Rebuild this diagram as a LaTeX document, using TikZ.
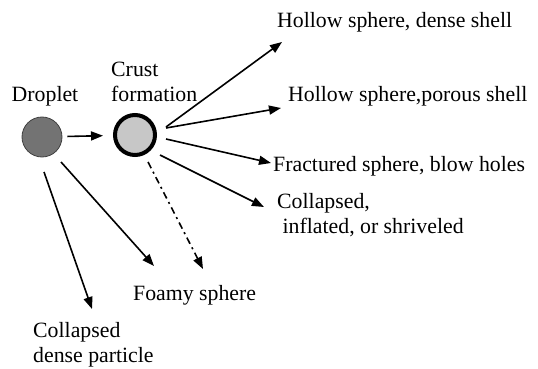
\documentclass[tikz,border=0pt]{standalone}
\usepackage{fontspec}
\setmainfont{Liberation Serif}
\usetikzlibrary{arrows.meta}

\begin{document}
\begin{tikzpicture}[x=1pt, y=-1pt,
  drop/.style={circle, draw=black!75, line width=0.8pt, fill=black!55,
               minimum size=40pt, inner sep=0pt},
  crust/.style={circle, draw, line width=4pt, fill=black!22,
                minimum size=40pt, inner sep=0pt},
  lbl/.style={anchor=west, inner sep=0pt, align=left,
              font=\fontsize{21.8}{25}\selectfont},
  every edge/.style={draw, line width=1.6pt,
                     -{Triangle[length=12pt,width=9pt]}},
  dashdot/.style={dash pattern=on 7pt off 4pt on 2pt off 4pt}
]
  \useasboundingbox (0,0) rectangle (538,369);

  % particles
  \node[drop]  (D) at (42,137)  {};
  \node[crust] (C) at (135,135) {};
  \node[lbl, anchor=center] (Dlab) at (45,96) {Droplet};
  \node[lbl] (Clab) at (111,82) {Crust\\formation};

  % outcomes
  \node[lbl] (hd) at (277,22)  {Hollow sphere, dense shell};
  \node[lbl] (hp) at (288,96)  {Hollow sphere,porous shell};
  \node[lbl] (fs) at (273,166) {Fractured sphere, blow holes};
  \node[lbl] (co) at (277,215) {Collapsed,\\ \ inflated, or shriveled};
  \node[lbl] (fo) at (133,295) {Foamy sphere};
  \node[lbl] (cd) at (33,345)  {Collapsed\\dense particle};

  \coordinate (thd) at (282,42);
  \coordinate (thp) at (281,108);
  \coordinate (tfs) at (271,163);
  \coordinate (tco) at (264,207);
  \coordinate (tfo) at (203,269);
  \coordinate (tfa) at (154,266);
  \coordinate (tcd) at (92,309);

  \draw (D) edge[shorten <=5pt, shorten >=10pt] (C);

  \draw ([shift={(31,-8)}]C.center) edge (thd);
  \draw ([shift={(31,-7)}]C.center) edge (thp);
  \draw ([shift={(31,4)}]C.center)  edge (tfs);
  \draw ([shift={(25,20)}]C.center) edge (tco);
  \draw ([shift={(13,27)}]C.center) edge[dashdot] (tfo);

  \draw ([shift={(19,25)}]D.center) edge (tfa);
  \draw ([shift={(2,35)}]D.center)  edge (tcd);
\end{tikzpicture}
\end{document}
